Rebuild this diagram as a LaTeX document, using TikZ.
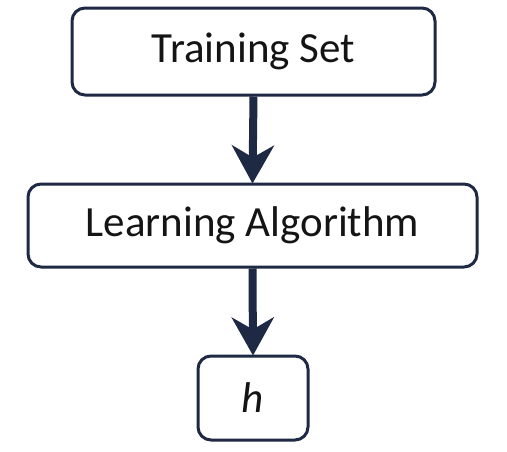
\documentclass[tikz,border=0pt]{standalone}
\usepackage{fontspec}
\setmainfont{Carlito}
\usetikzlibrary{arrows.meta}
\definecolor{navy}{HTML}{1E2944}
\definecolor{txt}{HTML}{141414}
\begin{document}
\begin{tikzpicture}[x=1pt,y=-1pt,
  box/.style={draw=navy, line width=3pt, rounded corners=13pt, inner sep=0pt,
    text=txt, font=\fontsize{43}{50}\selectfont},
  flow/.style={draw=navy, line width=8pt,
    -{Stealth[length=38pt,width=42pt,inset=12pt]}}]
\useasboundingbox[fill=white] (0,0) rectangle (507,451);
\node[box, minimum width=363pt, minimum height=87pt] (train) at (253.5,51.5) {Training Set};
\node[box, minimum width=449pt, minimum height=83pt] (learn) at (252.5,225.5) {Learning Algorithm};
\node[box, minimum width=110pt, minimum height=84pt] (hyp) at (253,398) {\itshape h};
\draw[flow] (train.south) -- ([yshift=-1pt]learn.north);
\draw[flow] (learn.south) -- ([yshift=-1pt]hyp.north);
\end{tikzpicture}
\end{document}
